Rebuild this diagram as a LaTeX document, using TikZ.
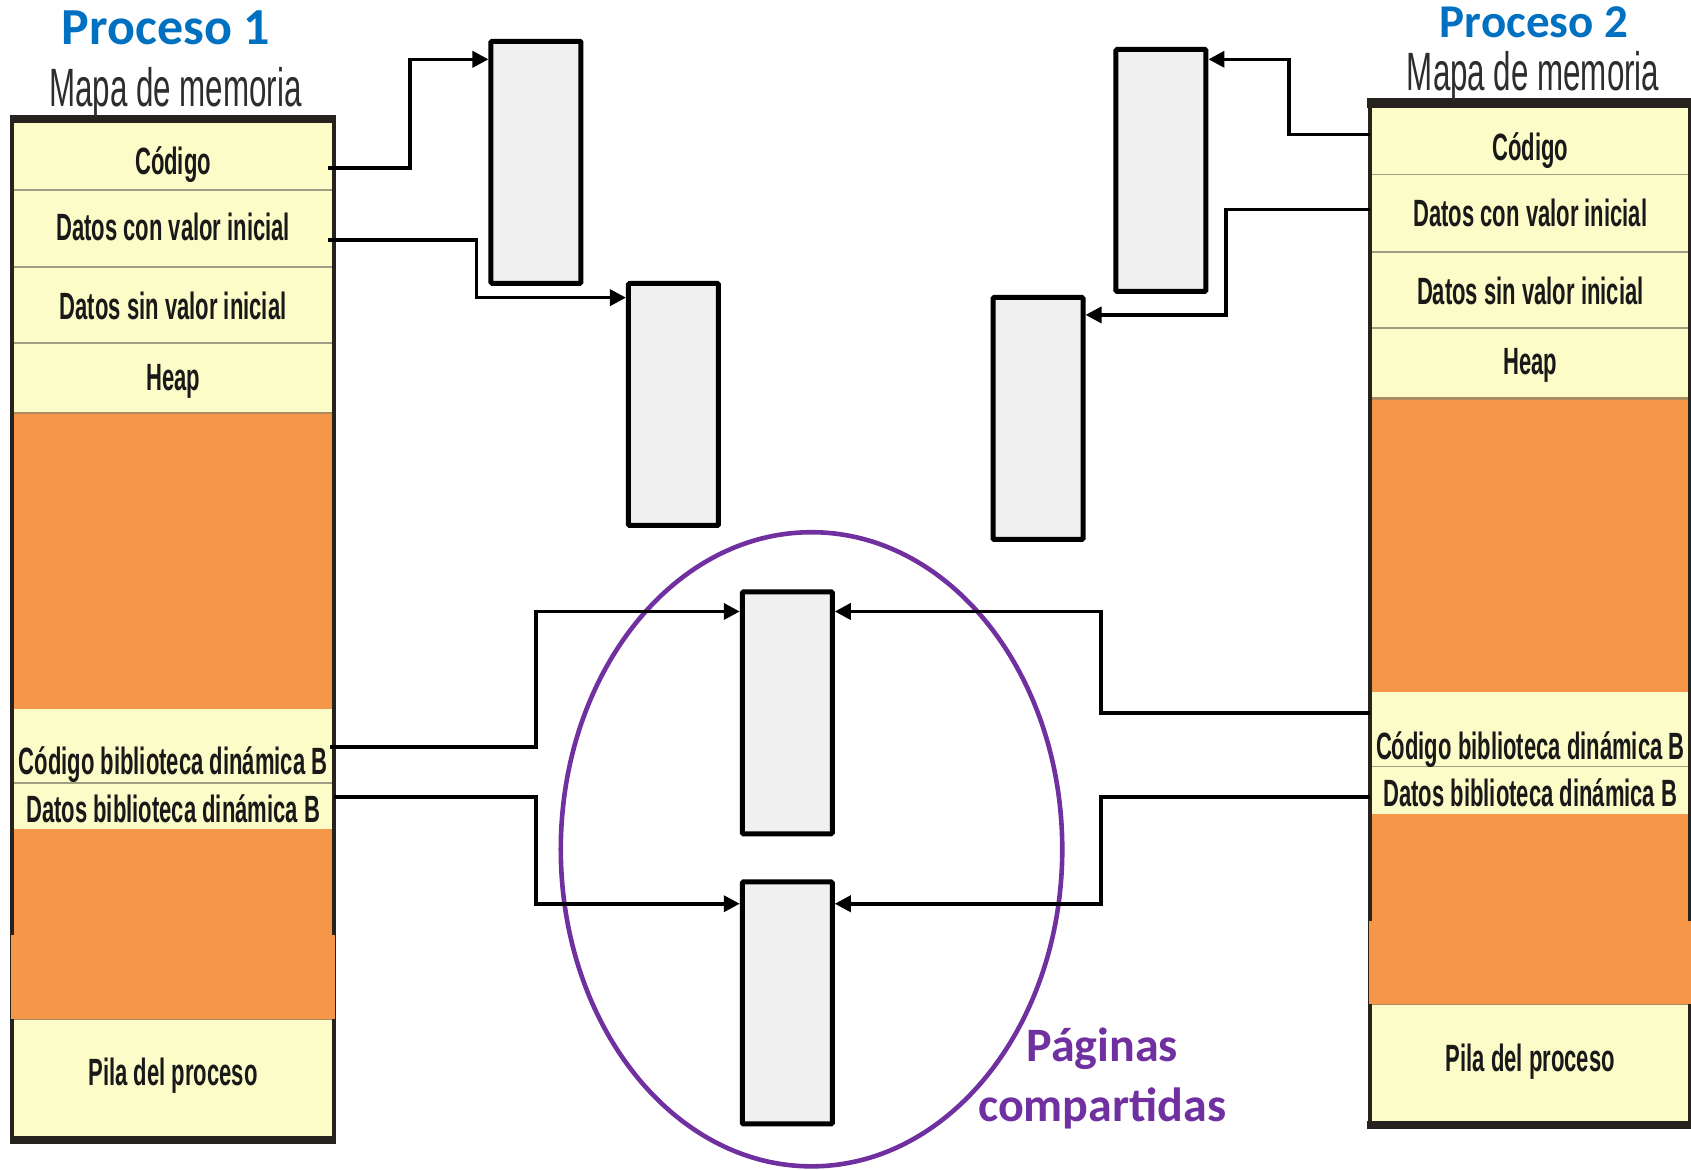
\documentclass[tikz,border=0pt]{standalone}
\usepackage{fontspec}
\setmainfont{Liberation Sans}
\newfontfamily\narrowfont[FakeStretch=0.58]{Liberation Sans}
\newfontfamily\calfont{Carlito}
\usetikzlibrary{arrows.meta}
\definecolor{cellyellow}{RGB}{252,252,200}
\definecolor{heaporange}{RGB}{246,150,72}
\definecolor{sepline}{RGB}{160,158,130}
\definecolor{sepbrown}{RGB}{170,140,95}
\definecolor{mapborder}{RGB}{38,34,30}
\definecolor{pagefill}{RGB}{240,240,240}
\definecolor{titleblue}{RGB}{0,112,192}
\definecolor{sharedpurple}{RGB}{112,48,160}
\definecolor{maptext}{RGB}{45,45,45}
\definecolor{celltxt}{RGB}{25,25,25}
\begin{document}
\begin{tikzpicture}[x=0.5392pt,y=-0.5392pt,
  celltext/.style={font=\narrowfont\bfseries\fontsize{19}{22}\selectfont, text=celltxt, inner sep=0, anchor=base},
  maptitle/.style={font=\narrowfont\fontsize{27}{30}\selectfont, text=maptext, inner sep=0, anchor=base},
  proctitle/.style={font=\calfont\bfseries, text=titleblue, inner sep=0, anchor=base},
  page/.style={draw=black, line width=2.5pt, fill=pagefill, minimum width=45pt, minimum height=121pt, inner sep=0, rounded corners=0.6pt},
  conn/.style={line width=1.8pt, -{Triangle[length=8pt,width=8pt]}},
  sep/.style={draw=sepline, line width=0.7pt},
  sepb/.style={draw=sepbrown, line width=1.1pt},
  frame/.style={line width=1.9pt, draw=mapborder}
]
\useasboundingbox (0,0) rectangle (1568,1084);

% ---------------- Left memory map (Proceso 1) ----------------
\fill[cellyellow] (13,114) rectangle (309,384);
\fill[heaporange] (13,384) rectangle (309,657);
\fill[cellyellow] (13,657) rectangle (309,769);
\fill[heaporange] (13,769) rectangle (309,945);
\fill[cellyellow] (13,945) rectangle (309,1054);
\draw[sep] (13,176) -- (309,176);
\draw[sep] (13,247.6) -- (309,247.6);
\draw[sep] (13,318) -- (309,318);
\draw[sepb] (13,383) -- (309,383);
\draw[sep] (13,726) -- (309,726);
\draw[sepb] (13,945) -- (309,945);
\draw[frame] (11,110) -- (11,1057);
\draw[frame] (310,110) -- (310,1057);
\fill[mapborder] (9,106.6) rectangle (312,114);
\fill[mapborder] (9,1053.5) rectangle (312,1061);
\fill[heaporange] (10.5,867) rectangle (310.5,944.5);

\node[proctitle, font=\calfont\bfseries\fontsize{26}{30}\selectfont] (p1title) at (154,41.7) {Proceso 1};
\node[maptitle] (p1map) at (162.7,98.3) {Mapa de memoria};
\node[celltext] (l1) at (160.5,161.4) {Código};
\node[celltext] (l2) at (160.5,222.6) {Datos con valor inicial};
\node[celltext] (l3) at (160.5,296.7) {Datos sin valor inicial};
\node[celltext] (l4) at (160.5,362.3) {Heap};
\node[celltext] (l5) at (160.5,717.7) {Código biblioteca dinámica B};
\node[celltext] (l6) at (160.5,763) {Datos biblioteca dinámica B};
\node[celltext] (l7) at (160.5,1006.7) {Pila del proceso};

% ---------------- Right memory map (Proceso 2) ----------------
\fill[cellyellow] (1272,100.5) rectangle (1566,370);
\fill[heaporange] (1272,370) rectangle (1566,642);
\fill[cellyellow] (1272,642) rectangle (1566,755);
\fill[heaporange] (1272,755) rectangle (1566,931);
\fill[cellyellow] (1272,931) rectangle (1566,1040);
\draw[sep] (1272,161.6) -- (1566,161.6);
\draw[sep] (1272,233.5) -- (1566,233.5);
\draw[sep] (1272,304) -- (1566,304);
\draw[sepb] (1272,369.5) -- (1566,369.5);
\draw[sep] (1272,711) -- (1566,711);
\draw[sepb] (1272,931) -- (1566,931);
\draw[frame] (1270,95) -- (1270,1044);
\draw[frame] (1567,95) -- (1567,1044);
\fill[mapborder] (1268,91.2) rectangle (1568,100.5);
\fill[mapborder] (1268,1039.5) rectangle (1568,1047);
\fill[heaporange] (1269,854) rectangle (1568,930.5);

\node[proctitle, font=\calfont\bfseries\fontsize{23.5}{28}\selectfont] (p2title) at (1422.5,34.6) {Proceso 2};
\node[maptitle] (p2map) at (1421.6,84) {Mapa de memoria};
\node[celltext] (r1) at (1419,148.4) {Código};
\node[celltext] (r2) at (1419,210.2) {Datos con valor inicial};
\node[celltext] (r3) at (1419,282.2) {Datos sin valor inicial};
\node[celltext] (r4) at (1419,347.7) {Heap};
\node[celltext] (r5) at (1419,704.1) {Código biblioteca dinámica B};
\node[celltext] (r6) at (1419,748) {Datos biblioteca dinámica B};
\node[celltext] (r7) at (1419,993.8) {Pila del proceso};

% ---------------- Physical pages ----------------
\node[page] (b1) at (497,150.5) {};
\node[page] (b2) at (624.5,375) {};
\node[page] (b3) at (1076.5,158) {};
\node[page] (b4) at (962.5,388) {};
\node[page] (s1) at (730,661) {};
\node[page] (s2) at (730,930) {};

% shared pages ellipse
\draw[sharedpurple, line width=2.3pt] (752.5,787.5) ellipse [x radius=232.5, y radius=294];
\node[font=\calfont\bfseries\fontsize{24}{29.7}\selectfont, text=sharedpurple, align=center, inner sep=0] (shared) at (1022,1000) {Páginas\\compartidas};

% ---------------- Connector anchors ----------------
\coordinate (lcod) at (304,155.5);
\coordinate (ldat) at (304,222.5);
\coordinate (llib) at (306,692.4);
\coordinate (lldat) at (310,739);
\coordinate (rcod) at (1270,124.6);
\coordinate (rdat) at (1270,194.1);
\coordinate (rlib) at (1270,661);
\coordinate (rldat) at (1270,739);
\coordinate (y55) at (0,55);
\coordinate (y276) at (0,276);
\coordinate (y292) at (0,292);
\coordinate (y567) at (0,567);
\coordinate (y838) at (0,838);

% ---------------- Connectors ----------------
\draw[conn] (lcod) -- (380,155.5) -- (380,55) -- (b1.west |- y55);
\draw[conn] (ldat) -- (442,222.5) -- (442,276) -- (b2.west |- y276);
\draw[conn] (llib) -- (497,692.4) -- (497,567) -- (s1.west |- y567);
\draw[conn] (lldat) -- (497,739) -- (497,838) -- (s2.west |- y838);
\draw[conn] (rcod) -- (1195,124.6) -- (1195,55) -- (b3.east |- y55);
\draw[conn] (rdat) -- (1137,194.1) -- (1137,292) -- (b4.east |- y292);
\draw[conn] (rlib) -- (1021,661) -- (1021,567) -- (s1.east |- y567);
\draw[conn] (rldat) -- (1021,739) -- (1021,838) -- (s2.east |- y838);
\end{tikzpicture}
\end{document}
